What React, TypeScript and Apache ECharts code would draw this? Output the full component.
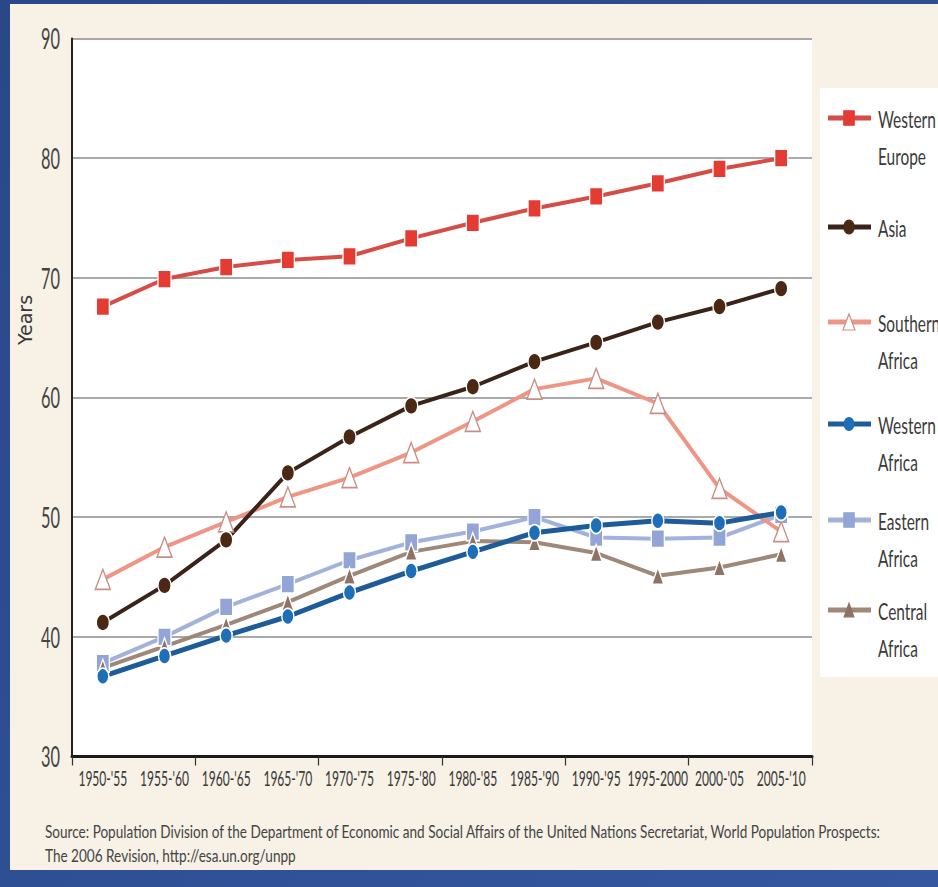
import React, { useEffect, useRef } from "react";
import * as echarts from "echarts";

// Five-year periods on the horizontal axis
const periods = [
  "1950-'55", "1955-'60", "1960-'65", "1965-'70", "1970-'75", "1975-'80",
  "1980-'85", "1985-'90", "1990-'95", "1995-2000", "2000-'05", "2005-'10",
];

// Life expectancy at birth, in years
const westernEurope = [67.6, 69.9, 70.9, 71.5, 71.8, 73.3, 74.6, 75.8, 76.8, 77.9, 79.1, 80.0];
const asia = [41.2, 44.3, 48.1, 53.7, 56.7, 59.3, 60.9, 63.0, 64.6, 66.3, 67.6, 69.1];
const southernAfrica = [44.8, 47.5, 49.6, 51.7, 53.3, 55.4, 58.0, 60.7, 61.6, 59.5, 52.4, 48.8];
const westernAfrica = [36.7, 38.4, 40.1, 41.7, 43.7, 45.5, 47.1, 48.7, 49.3, 49.7, 49.5, 50.4];
const easternAfrica = [37.8, 40.0, 42.5, 44.4, 46.4, 47.9, 48.8, 50.0, 48.3, 48.2, 48.3, 50.2];
const centralAfrica = [37.4, 39.2, 41.0, 42.9, 45.1, 47.1, 48.0, 47.9, 47.0, 45.1, 45.8, 46.9];

// Value axis ticks
const yMin = 30;
const yMax = 90;
const yStep = 10;
const yTicks = [30, 40, 50, 60, 70, 80, 90];

const sourceLines = [
  "Source: Population Division of the Department of Economic and Social Affairs of the United Nations Secretariat, World Population Prospects:",
  "The 2006 Revision, http://esa.un.org/unpp",
];

const FONT = "Lato, 'Open Sans', sans-serif";
const WEIGHT = 400;

type Region = {
  name: string;
  label: string[];
  data: number[];
  line: string;
  fill: string;
  border: string;
  symbol: "rect" | "circle" | "triangle";
  size: [number, number];
  lineWidth: number;
};

const regions: Region[] = [
  { name: "Western Europe", label: ["Western", "Europe"], data: westernEurope, line: "#D64D47", fill: "#E43B33", border: "#ffffff", symbol: "rect", size: [13, 18], lineWidth: 4 },
  { name: "Asia", label: ["Asia"], data: asia, line: "#3A2419", fill: "#4B2813", border: "#ffffff", symbol: "circle", size: [13, 17], lineWidth: 4 },
  { name: "Southern Africa", label: ["Southern", "Africa"], data: southernAfrica, line: "#EF9585", fill: "#ffffff", border: "#C98F86", symbol: "triangle", size: [15, 20], lineWidth: 4 },
  { name: "Western Africa", label: ["Western", "Africa"], data: westernAfrica, line: "#1D5C98", fill: "#1E6FB8", border: "#ffffff", symbol: "circle", size: [12, 16], lineWidth: 5 },
  { name: "Eastern Africa", label: ["Eastern", "Africa"], data: easternAfrica, line: "#A2B2DA", fill: "#93A5D6", border: "#ffffff", symbol: "rect", size: [13, 18], lineWidth: 4 },
  { name: "Central Africa", label: ["Central", "Africa"], data: centralAfrica, line: "#9D8879", fill: "#8E7263", border: "#ffffff", symbol: "triangle", size: [12, 17], lineWidth: 4 },
];

// Drawing order: the light African series sit underneath
const drawOrder = ["Eastern Africa", "Central Africa", "Southern Africa", "Western Africa", "Asia", "Western Europe"];

// Key layout (row centre of each entry, in px)
const keyRows = [118, 227, 322, 424, 520, 610];
const keyLineGap = 37;

function keyMarker(r: Region, cx: number, cy: number) {
  const w = r.size[0] * 0.8;
  const h = r.size[1] * 0.8;
  const style = { fill: r.fill, stroke: r.border === "#ffffff" ? r.fill : r.border, lineWidth: 1.2 };
  if (r.symbol === "rect") {
    return { type: "rect", z: 12, shape: { x: cx - w / 2, y: cy - h / 2, width: w, height: h }, style };
  }
  if (r.symbol === "circle") {
    return { type: "ellipse", z: 12, shape: { cx, cy, rx: w / 2, ry: h / 2 }, style };
  }
  return {
    type: "polygon",
    z: 12,
    shape: { points: [[cx, cy - h / 2], [cx + w / 2, cy + h / 2], [cx - w / 2, cy + h / 2]] },
    style,
  };
}

export default function App() {
  const ref = useRef<HTMLDivElement>(null);

  useEffect(() => {
    if (!ref.current) return;
    const chart = echarts.init(ref.current, undefined, { renderer: "svg" });

    // Text measuring, used to squeeze labels into a condensed look
    const ctx = document.createElement("canvas").getContext("2d")!;
    const measure = (text: string, size: number) => {
      ctx.font = `${WEIGHT} ${size}px ${FONT}`;
      return ctx.measureText(text).width;
    };
    const txt = (text: string, size: number, extra: any = {}) => ({
      text,
      fontFamily: FONT,
      fontWeight: WEIGHT,
      fontSize: size,
      fill: "#3a3a3a",
      ...extra,
    });

    const series = drawOrder.map((n) => {
      const r = regions.find((x) => x.name === n)!;
      return {
        name: r.name,
        type: "line",
        data: r.data,
        symbol: r.symbol,
        symbolSize: r.size,
        showAllSymbol: true,
        lineStyle: { color: r.line, width: r.lineWidth },
        itemStyle: { color: r.fill, borderColor: r.border, borderWidth: 1.5 },
        emphasis: { disabled: true },
      };
    });

    chart.setOption({
      animation: false,
      backgroundColor: new echarts.graphic.LinearGradient(0, 0, 1, 1, [
        { offset: 0, color: "#2A4788" },
        { offset: 1, color: "#3457A0" },
      ]),
      grid: {
        left: 72,
        right: 126,
        top: 38.5,
        bottom: 130.5,
        show: true,
        backgroundColor: "#ffffff",
        borderWidth: 0,
      },
      xAxis: {
        type: "category",
        data: periods,
        boundaryGap: true,
        axisLine: { lineStyle: { color: "#1a1a1a", width: 3 } },
        axisTick: { show: true, length: 9, lineStyle: { color: "#333", width: 1.2 } },
        axisLabel: { show: false },
        splitLine: { show: false },
      },
      yAxis: {
        type: "value",
        min: yMin,
        max: yMax,
        interval: yStep,
        axisLine: { show: true, lineStyle: { color: "#222", width: 2 } },
        axisTick: { show: false },
        axisLabel: { show: false },
        splitLine: { lineStyle: { color: "#8c8c8c", width: 1.5 } },
      },
      series,
    });

    // Condensed tick labels placed through the axes' own scales
    const xSize = 21;
    const xScale = 49 / measure(periods[0], xSize);
    const axisY = chart.convertToPixel({ yAxisIndex: 0 }, yMin) as number;
    const xLabels = periods.map((p, i) => ({
      type: "text",
      z: 10,
      x: chart.convertToPixel({ xAxisIndex: 0 }, i) as number,
      y: axisY + 22,
      scaleX: xScale,
      style: txt(p, xSize, { align: "center", verticalAlign: "middle" }),
    }));

    const ySize = 28;
    const yScale = 19 / measure("90", ySize);
    const yLabels = yTicks.map((v) => ({
      type: "text",
      z: 10,
      x: 60,
      y: chart.convertToPixel({ yAxisIndex: 0 }, v) as number,
      scaleX: yScale,
      style: txt(String(v), ySize, { fill: "#444", align: "right", verticalAlign: "middle" }),
    }));

    const keySize = 24;
    const keyScale = 48 / measure("Europe", keySize);
    const key: any[] = [];
    regions.forEach((r, i) => {
      const y = keyRows[i];
      key.push({
        type: "line",
        z: 11,
        shape: { x1: 828, y1: y, x2: 871, y2: y },
        style: { stroke: r.line, lineWidth: 5 },
      });
      key.push(keyMarker(r, 849, y));
      r.label.forEach((t, j) => {
        key.push({
          type: "text",
          z: 12,
          x: 878,
          y: y + j * keyLineGap,
          scaleX: keyScale,
          style: txt(t, keySize, { verticalAlign: "middle" }),
        });
      });
    });

    const srcSize = 18;
    const srcScale = 837 / measure(sourceLines[0], srcSize);

    chart.setOption({
      graphic: [
        { type: "rect", z: -10, silent: true, shape: { x: 10, y: 4, width: 940, height: 866 }, style: { fill: "#F7F1E6" } },
        { type: "rect", z: 10, silent: true, shape: { x: 820, y: 88, width: 130, height: 589 }, style: { fill: "#ffffff" } },
        {
          type: "text",
          z: 10,
          x: 25,
          y: 320,
          rotation: Math.PI / 2,
          style: { text: "Years", fontFamily: "'DejaVu Sans', sans-serif", fontSize: 19, fill: "#3a3a3a", align: "center", verticalAlign: "middle" },
        },
        ...sourceLines.map((t, i) => ({
          type: "text",
          z: 10,
          x: 45,
          y: 831 + i * 24,
          scaleX: srcScale,
          style: txt(t, srcSize, { fill: "#444", verticalAlign: "middle" }),
        })),
        ...xLabels,
        ...yLabels,
        ...key,
      ],
    });

    return () => chart.dispose();
  }, []);

  return <div ref={ref} style={{ position: "fixed", left: 0, top: 0, width: 938, height: 887 }} />;
}
